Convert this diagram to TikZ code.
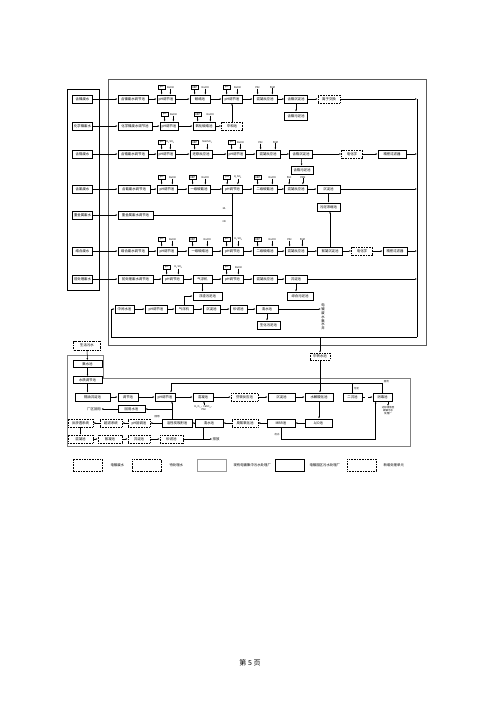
\documentclass[tikz,border=0pt]{standalone}
\usepackage{fontspec}
\setmainfont{Noto Sans CJK SC}
\usetikzlibrary{arrows.meta, calc}
\newcommand{\unitfont}{\fontsize{3.4}{3.8}\selectfont}
\newcommand{\tagfont}{\fontsize{2.5}{2.9}\selectfont}
% dosing point above a tank: meter on the left, reagent on the right
\newcommand{\dose}[3]{%
  \node[meter] (#1m) at ($(#1.north west)+(5,-7.5)$) {#2};
  \draw[flow] (#1m) -- (#1m |- #1.north);
  \node[reagent] (#1r) at ($(#1.north east)+(-5,-7.5)$) {#3};
  \draw[flow] (#1r) -- (#1r |- #1.north);
}
\newcommand{\dosepp}[1]{%
  \node[reagent] (#1p) at ($(#1.north west)+(5,-7.5)$) {PAC};
  \draw[flow] (#1p) -- (#1p |- #1.north);
  \node[reagent] (#1q) at ($(#1.north east)+(-5,-7.5)$) {PAM};
  \draw[flow] (#1q) -- (#1q |- #1.north);
}
\newcommand{\acid}{H\textsubscript{2}SO\textsubscript{4}}

\begin{document}
\begin{tikzpicture}[x=1pt,y=-1pt,
  unit/.style={draw, line width=0.7pt, fill=white, minimum height=8pt, inner sep=0.3pt, font=\unitfont},
  newunit/.style={unit, line width=0.5pt, dash pattern=on 0.8pt off 0.8pt},
  extunit/.style={unit, line width=0.5pt, dash pattern=on 1.6pt off 1pt},
  waitunit/.style={unit, line width=0.5pt, dash pattern=on 2pt off 1pt on 0.6pt off 1pt},
  oldunit/.style={unit, line width=0.45pt, draw=black!40},
  meter/.style={draw, line width=0.4pt, minimum width=7pt, minimum height=4.5pt, inner sep=0.2pt, font=\tagfont},
  reagent/.style={inner sep=0.2pt, font=\tagfont},
  flow/.style={line width=0.5pt, -{Latex[length=2pt,width=1.6pt]}},
  link/.style={line width=0.5pt},
  frame/.style={line width=0.6pt, black!65}]
  \fill[white] (0,0) rectangle (500,707);
  \useasboundingbox (0,0) rectangle (500,707);

  % frames
  \draw[frame] (108,79) rectangle (426,345);
  \draw[line width=0.9pt] (67,89) rectangle (99,290);
  \draw[frame, black!50] (67,355) -- (103,355) -- (103,378) -- (410,378) -- (410,446) -- (67,446) -- cycle;

  % wastewater sources and their equalisation tanks
  \foreach \n/\y/\w/\s/\t in {1/99/30/含镍废水/含镍废水调节池, 2/126/34/化学镍废水/化学镍废水调节池,
      3/154/30/含铬废水/含铬废水调节池, 4/189/32/含氰废水/含氰废水调节池, 5/215/35/重金属废水/重金属废水调节池,
      6/251/30/络合废水/络合废水调节池, 7/279/35/前处理废水/前处理废水调节池}{
    \node[unit, minimum width=20] (s\n) at (82.5,\y) {\s};
    \node[unit, minimum width=\w] (a\n) at ({118+\w/2},\y) {\t};
    \draw[flow] (s\n) -- (a\n);
  }

  % collecting line on the right
  \coordinate (ctop) at (417,99);
  \coordinate (cbot) at (417,337);
  \coordinate (lbot) at (111,337);
  \coordinate (wbot) at (320,337);

  % row 1
  \node[unit, minimum width=18] (b1) at (166,99) {pH调节池};
  \node[unit, minimum width=20] (c1) at (200,99) {破络池};
  \node[unit, minimum width=20] (d1) at (232,99) {pH调节池};
  \node[unit, minimum width=24] (e1) at (265,99) {混凝反应池};
  \node[unit, minimum width=23] (f1) at (296,99) {含镍沉淀池};
  \node[newunit, minimum width=22] (g1) at (329,99) {离子交换};
  \node[unit, minimum width=23] (h1) at (296,116) {含镍污泥池};
  \foreach \p/\q in {a1/b1, b1/c1, c1/d1, d1/e1, e1/f1, f1/g1, f1/h1} \draw[flow] (\p) -- (\q);
  \draw[flow] (g1) -- (g1 -| ctop);
  \dose{b1}{pH}{NaOH} \dose{c1}{ORP}{NaClO} \dose{d1}{pH}{NaOH} \dosepp{e1}

  % row 2
  \node[unit, minimum width=18] (b2) at (169,126) {pH调节池};
  \node[unit, minimum width=22] (c2) at (204,126) {氧化破络池};
  \node[newunit, minimum width=21] (g2) at (232,126) {中和池};
  \foreach \p/\q in {a2/b2, b2/c2, c2/g2, g2/d1} \draw[flow] (\p) -- (\q);
  \dose{b2}{pH}{NaOH} \dose{c2}{ORP}{NaClO}

  % row 3
  \node[unit, minimum width=18] (b3) at (166,154) {pH调节池};
  \node[unit, minimum width=22] (c3) at (201,154) {还原反应池};
  \node[unit, minimum width=18] (d3) at (236,154) {pH调节池};
  \node[unit, minimum width=24] (e3) at (268,154) {混凝反应池};
  \node[unit, minimum width=23] (f3) at (301,154) {含铬沉淀池};
  \node[newunit, minimum width=21] (g3) at (352,154) {电化学};
  \node[unit, minimum width=28] (h3) at (392,154) {精密过滤器};
  \node[unit, minimum width=22] (j3) at (302,170) {含铬污泥池};
  \foreach \p/\q in {a3/b3, b3/c3, c3/d3, d3/e3, e3/f3, f3/g3, g3/h3, f3/j3} \draw[flow] (\p) -- (\q);
  \draw[flow] (h3) -- (h3 -| ctop);
  \dose{b3}{pH}{\acid} \dose{c3}{ORP}{NaHSO\textsubscript{3}} \dose{d3}{pH}{NaOH} \dosepp{e3}

  % row 4
  \node[unit, minimum width=20] (b4) at (167,189) {pH调节池};
  \node[unit, minimum width=22] (c4) at (199,189) {一级破氰池};
  \node[unit, minimum width=20] (d4) at (232.5,189) {pH调节池};
  \node[unit, minimum width=24] (e4) at (265,189) {二级破氰池};
  \node[unit, minimum width=23] (f4) at (296,189) {混凝反应池};
  \node[unit, minimum width=23] (g4) at (328.5,189) {沉淀池};
  \node[unit, minimum width=23] (h4) at (328.5,207) {污泥浓缩池};
  \foreach \p/\q in {a4/b4, b4/c4, c4/d4, d4/e4, e4/f4, f4/g4, g4/h4} \draw[flow] (\p) -- (\q);
  \draw[flow] (g4) -- (g4 -| ctop);
  \dose{b4}{pH}{NaOH} \dose{c4}{ORP}{NaClO} \dose{d4}{pH}{\acid} \dose{e4}{ORP}{NaClO} \dosepp{f4}

  % row 5 joins the riser between rows 6 and 4
  \coordinate (j5) at (232.5,215);
  \draw[link] (a5) -- (j5);
  \node[reagent] (t3a) at (224,209) {3A};
  \node[reagent] (t3n) at (224,222) {3N};

  % row 6
  \node[unit, minimum width=20] (b6) at (167,251) {pH调节池};
  \node[unit, minimum width=24] (c6) at (200,251) {一级破络池};
  \node[unit, minimum width=21] (d6) at (232.5,251) {pH调节池};
  \node[unit, minimum width=24] (e6) at (265,251) {二级破络池};
  \node[unit, minimum width=22] (f6) at (296,251) {混凝反应池};
  \node[unit, minimum width=25] (g6) at (330,251) {絮凝沉淀池};
  \node[newunit, minimum width=21] (h6) at (362,251) {电化学};
  \node[unit, minimum width=24] (j6) at (395,251) {精密过滤器};
  \foreach \p/\q in {a6/b6, b6/c6, c6/d6, d6/e6, e6/f6, f6/g6, g6/h6, h6/j6, d6/d4} \draw[flow] (\p) -- (\q);
  \draw[flow] (g6.north) -- (g6.north |- h4.south);
  \draw[flow] (j6) -- (j6 -| ctop);
  \dose{b6}{pH}{NaOH} \dose{c6}{ORP}{NaClO} \dose{d6}{pH}{\acid} \dose{e6}{ORP}{NaClO} \dosepp{f6}

  % row 7
  \node[unit, minimum width=21] (b7) at (172.5,279) {pH调节池};
  \node[unit, minimum width=19] (c7) at (202.5,279) {气浮机};
  \node[unit, minimum width=21] (d7) at (232.5,279) {pH调节池};
  \node[unit, minimum width=24] (e7) at (265,279) {混凝反应池};
  \node[unit, minimum width=22] (f7) at (296,279) {沉淀池};
  \node[unit, minimum width=29] (h7) at (207.5,296) {浮渣污泥池};
  \node[unit, minimum width=26] (j7) at (300,296) {综合污泥池};
  \foreach \p/\q in {a7/b7, b7/c7, c7/d7, d7/e7, e7/f7} \draw[flow] (\p) -- (\q);
  \draw[flow] (c7.south) -- (c7.south |- h7.north);
  \draw[flow] (f7.south) -- (f7.south |- j7.north);
  \draw[flow] (f7) -- (f7 -| ctop);
  \dose{b7}{pH}{\acid} \dose{d7}{pH}{NaOH}

  % row 8
  \node[unit, minimum width=19] (m8) at (124.5,309) {中间水池};
  \node[unit, minimum width=22] (b8) at (156,309) {pH调节池};
  \node[unit, minimum width=18] (c8) at (184,309) {气浮机};
  \node[unit, minimum width=17] (d8) at (211.5,309) {沉淀池};
  \node[unit, minimum width=17] (e8) at (238.5,309) {砂滤池};
  \node[unit, minimum width=22] (f8) at (267,309) {清水池};
  \node[unit, minimum width=23] (g8) at (268.5,325) {生化污泥池};
  \node[font=\unitfont, align=center, inner sep=0.3pt] (well) at (323,317) {电\\镀\\废\\水\\集\\水\\井};
  \foreach \p/\q in {m8/b8, b8/c8, c8/d8, d8/e8, e8/f8} \draw[flow] (\p) -- (\q);
  \draw[flow] (f8.south) -- (f8.south |- g8.north);
  \draw[flow] (c8.north) |- (h7.west);
  \draw[flow] (f8) -- (f8 -| well.west);
  \draw[link] (ctop) -- (cbot);
  \draw[flow] (cbot) -- (lbot) |- (m8.west);

  % lower plant
  \node[extunit, minimum width=20, minimum height=7] (relay) at (320,356.5) {中转水池};
  \draw[flow] (wbot) -- (relay);
  \node[waitunit, minimum width=27, minimum height=9] (lw) at (87,345.5) {生活污水};
  \node[unit, minimum width=29, minimum height=7] (ls1) at (87.5,364) {集水池};
  \node[unit, minimum width=29, minimum height=7] (ls2) at (87.5,380) {水质调节池};
  \node[unit, minimum width=35] (A1) at (92.5,397) {隔油沉淀池};
  \node[unit, minimum width=20] (A2) at (128,397) {调节池};
  \node[unit, minimum width=20] (A3) at (165,397) {pH调节池};
  \node[unit, minimum width=20] (A4) at (203,397) {混凝池};
  \node[newunit, minimum width=27] (A5) at (244.5,397) {芬顿反应池};
  \node[unit, minimum width=27] (A6) at (281.5,397) {沉淀池};
  \node[unit, minimum width=28] (A7) at (319,397) {水解酸化池};
  \node[unit, minimum width=19] (A8) at (352.5,397) {二沉池};
  \node[unit, minimum width=19] (A9) at (382.5,397) {消毒池};
  \draw[flow] (lw) -- (ls1);
  \draw[flow] (ls1) -- (ls2);
  \draw[flow] (ls2.south) -- (ls2.south |- A1.north);
  \foreach \p/\q in {A1/A2, A2/A3, A3/A4, A4/A5, A5/A6, A6/A7} \draw[flow] (\p) -- (\q);
  \draw[flow, dashed] (A8) -- (A9);
  \draw[flow] (relay) -- (relay |- A7.north);
  \draw[flow] (A9.north) -- ++(0,-9) coordinate (rtn) -| ($(A3.north)+(6,0)$);
  \draw[link] (A8.north) -- (A8.north |- rtn);
  \node[reagent, anchor=west] (tback) at ($(rtn)+(1,-2)$) {回流};
  \node[reagent, anchor=west] (tsludge) at ($(A8.north)+(1,-4)$) {污泥};
  \node[reagent, align=center, anchor=north] (disch) at (388,406) {达标排放至\\城镇污水\\处理厂};
  \draw[flow] (A9.south -| disch) -- (disch.north);
  \node[reagent, align=center, anchor=north] (A4r) at (204,405) {H\textsubscript{2}O\textsubscript{2}、FeSO\textsubscript{4}、\\PAC};
  \draw[flow] (A4r.north) -- (A4r.north |- A4.south);

  \node[unit, minimum width=27] (B1) at (318.5,423) {A/O池};
  \node[unit, minimum width=28] (B2) at (281,423) {MBR池};
  \node[newunit, minimum width=26] (B3) at (245,423) {臭氧氧化池};
  \node[unit, minimum width=28] (B4) at (209,423) {清水池};
  \node[unit, minimum width=30] (B5) at (177,423) {活性炭吸附池};
  \node[newunit, minimum width=22] (B6) at (139,423) {pH回调池};
  \node[newunit, minimum width=22] (B7) at (111,423) {超滤系统};
  \node[newunit, minimum width=25] (B8) at (80.5,423) {反渗透系统};
  \draw[flow] (A7.south) -- (A7.south |- B1.north);
  \foreach \p/\q in {B1/B2, B2/B3, B3/B4, B4/B5, B5/B6, B6/B7, B7/B8} \draw[flow] (\p) -- (\q);
  \draw[flow] (B2.south) -- ++(0,12) -| ($(A9.south west)+(3,0)$);
  \node[reagent, anchor=east] (tout) at ($(B2.south)+(-1,7)$) {出水};

  \node[newunit, minimum width=25] (C1) at (80.5,439) {混凝池};
  \node[newunit, minimum width=24] (C2) at (110,439) {絮凝池};
  \node[newunit, minimum width=22] (C3) at (139,439) {沉淀池};
  \node[newunit, minimum width=23] (C4) at (171.5,439) {砂滤池};
  \coordinate (cj) at (203,439);
  \node[font=\unitfont, inner sep=0.3pt] (out) at (216,439) {排放};
  \foreach \p/\q in {B8/C1, C1/C2, C2/C3, C3/C4} \draw[flow] (\p) -- (\q);
  \draw[link] (C4) -- (cj);
  \draw[link] (B4.south -| cj) -- (cj);
  \draw[flow] (cj) -- (out);

  % reuse branch
  \node[unit, minimum width=27, minimum height=7] (R) at (131.5,409) {回用水池};
  \node[font=\unitfont, inner sep=0.3pt] (reuse) at (94,409) {厂区回用};
  \coordinate (rj) at (172,409);
  \draw[link] (B5.north -| rj) -- (rj);
  \draw[flow] (rj) -- (rj |- A3.south);
  \draw[flow] (rj) -- (R.east);
  \draw[flow] (R) -- (reuse);
  \node[reagent] (treuse) at (157,417) {回用};

  % legend
  \node[extunit, minimum width=29, minimum height=12] (key1) at (87.5,465) {};
  \node[waitunit, minimum width=29, minimum height=12] (key2) at (146.5,465) {};
  \node[oldunit, minimum width=29, minimum height=12] (key3) at (211.5,465) {};
  \node[unit, line width=0.8pt, minimum width=29, minimum height=12] (key4) at (289.5,465) {};
  \node[newunit, minimum width=29, minimum height=12] (key5) at (361.5,465) {};
  \node[font=\unitfont, anchor=west] (ktext1) at (107,465) {电镀废水};
  \node[font=\unitfont, anchor=west] (ktext2) at (166,465) {待处理水};
  \node[font=\unitfont, anchor=west] (ktext3) at (230,465) {现有电镀集中污水处理厂};
  \node[font=\unitfont, anchor=west] (ktext4) at (306,465) {电镀园区污水处理厂};
  \node[font=\unitfont, anchor=west] (ktext5) at (380,465) {新增处理单元};

  \node[font=\fontsize{7}{8}\selectfont] (pageno) at (250,663) {第 5 页};
\end{tikzpicture}
\end{document}
